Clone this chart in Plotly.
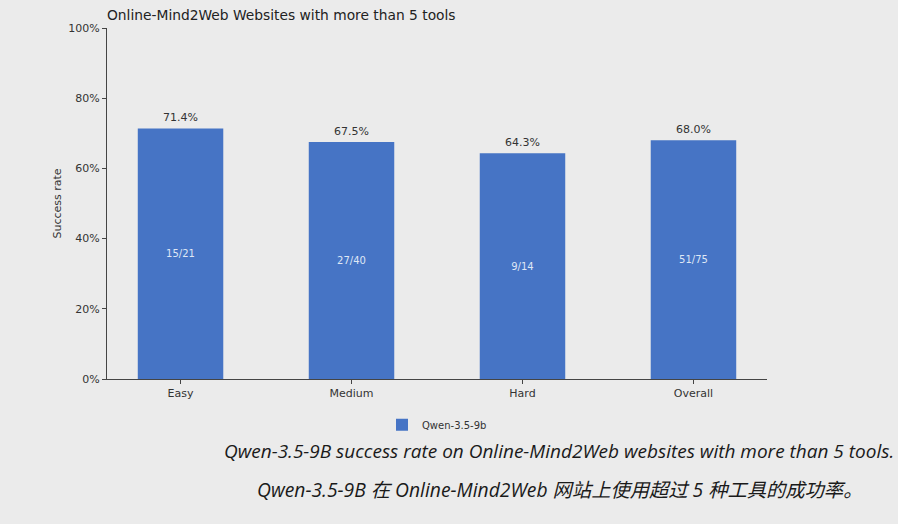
import plotly.graph_objects as go

# data
categories = ['Easy', 'Medium', 'Hard', 'Overall']
success_rate = [71.4, 67.5, 64.3, 68.0]
fractions = ['15/21', '27/40', '9/14', '51/75']
model_name = 'Qwen-3.5-9b'
y_ticks = [0, 20, 40, 60, 80, 100]

bg = '#ebebeb'
bar_color = '#4674c5'
txt = '#333333'

fig = go.Figure()
fig.add_trace(go.Bar(
    x=categories, y=success_rate, name=model_name,
    marker=dict(color=bar_color, line=dict(width=0)),
    width=0.5,
    text=fractions, textposition='inside', insidetextanchor='middle',
    textfont=dict(color='#dfe7f5', size=10, family='DejaVu Sans'),
    hoverinfo='skip',
))

# percent labels above bars
for c, v in zip(categories, success_rate):
    fig.add_annotation(x=c, y=v, text=f'{v:.1f}%', showarrow=False,
                       yanchor='bottom', yshift=2,
                       font=dict(size=11, color=txt, family='DejaVu Sans'))

# captions under the chart
fig.add_annotation(xref='paper', yref='paper', x=0.685, xanchor='center', y=-0.205, yanchor='middle',
                   text='<i>Qwen-3.5-9B success rate on Online-Mind2Web websites with more than 5 tools.</i>',
                   showarrow=False, font=dict(size=19, color='#1a1a1a', family='Open Sans'))
fig.add_annotation(xref='paper', yref='paper', x=0.685, xanchor='center', y=-0.316, yanchor='middle',
                   text='<i>Qwen-3.5-9B 在 Online-Mind2Web 网站上使用超过 5 种工具的成功率。</i>',
                   showarrow=False, font=dict(size=19.3, color='#1a1a1a', family='Open Sans, Noto Sans CJK SC'))

fig.update_layout(
    width=898, height=524,
    paper_bgcolor=bg, plot_bgcolor=bg,
    margin=dict(l=107, r=131, t=28, b=145),
    title=dict(text='Online-Mind2Web Websites with more than 5 tools',
               x=107/898, xanchor='left', y=1 - 15/524, yanchor='middle',
               font=dict(size=13.8, color='#222', family='DejaVu Sans')),
    font=dict(family='DejaVu Sans', color=txt, size=11),
    showlegend=True,
    legend=dict(orientation='h', x=0.5, xanchor='center', y=-0.13, yanchor='middle',
                font=dict(size=10, color=txt), bgcolor='rgba(0,0,0,0)'),
    xaxis=dict(range=[-0.43, 3.43], showline=True, linecolor='#444', linewidth=1.2,
               ticks='outside', ticklen=4, tickcolor='#444', showgrid=False,
               tickfont=dict(size=11, color=txt)),
    yaxis=dict(range=[0, 100], tickmode='array', tickvals=y_ticks,
               ticktext=[f'{t}%' for t in y_ticks],
               showline=True, linecolor='#444', linewidth=1.2,
               ticks='outside', ticklen=4, tickcolor='#444', showgrid=False, zeroline=False,
               title=dict(text='Success rate', font=dict(size=11, color=txt), standoff=4),
               tickfont=dict(size=11, color=txt)),
)

# remove the page margin so the figure fills the window
fig.write_html('out.html', config={'displayModeBar': False},
               post_script="document.body.style.margin='0';document.body.style.background='#ebebeb';")
